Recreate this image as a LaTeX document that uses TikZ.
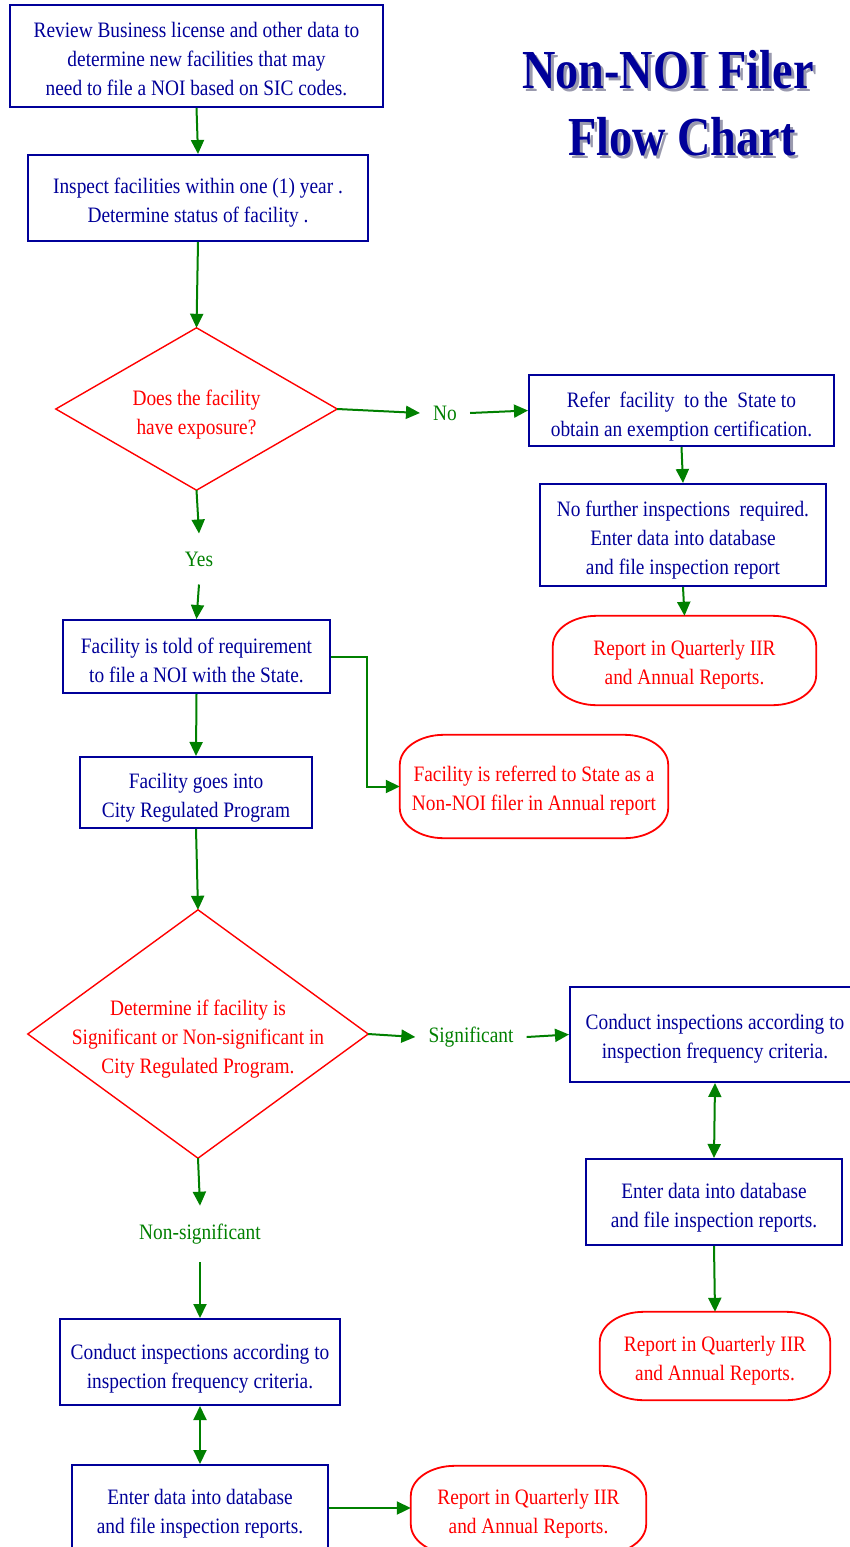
\documentclass[tikz,border=0pt]{standalone}
\usepackage{fontspec}
\setmainfont{Liberation Serif}[FakeStretch=0.88]
\newfontfamily\titlefont{Liberation Serif}[FakeStretch=0.84]
\usetikzlibrary{arrows.meta}

\definecolor{navy}{HTML}{000099}
\definecolor{flowred}{HTML}{FF0000}
\definecolor{flowgreen}{HTML}{008000}
\definecolor{shade}{HTML}{9A9AAE}

% terminal outline with elliptic corners
\newcommand\terminal[1]{%
  \draw[termline] ([xshift=44pt]#1.north west) -- ([xshift=-44pt]#1.north east)
    arc[start angle=90,end angle=0,x radius=44pt,y radius=30pt]
    -- ([yshift=30pt]#1.south east)
    arc[start angle=0,end angle=-90,x radius=44pt,y radius=30pt]
    -- ([xshift=44pt]#1.south west)
    arc[start angle=270,end angle=180,x radius=44pt,y radius=30pt]
    -- ([yshift=-30pt]#1.north west)
    arc[start angle=180,end angle=90,x radius=44pt,y radius=30pt] -- cycle;}
\newcommand\rhombus[1]{%
  \draw[diamline] (#1.north) -- (#1.east) -- (#1.south) -- (#1.west) -- cycle;}

\tikzset{
  x=1pt, y=1pt,
  txt/.style={font=\fontsize{22}{29}\selectfont, align=center, inner sep=0pt},
  procbox/.style={draw=navy, line width=2pt, inner sep=0pt},
  proctext/.style={txt, text=navy},
  termbox/.style={inner sep=0pt},
  termline/.style={draw=flowred, line width=1.8pt},
  redtext/.style={txt, text=flowred},
  diambox/.style={inner sep=0pt},
  diamline/.style={draw=flowred, line width=1.4pt},
  answer/.style={txt, text=flowgreen, inner xsep=13pt, inner ysep=18pt},
  flow/.style={draw=flowgreen, line width=2pt, -{Triangle[length=14pt,width=13pt]}},
  twoway/.style={draw=flowgreen, line width=2pt, {Triangle[length=14pt,width=13pt]}-{Triangle[length=14pt,width=13pt]}},
  headline/.style={font=\titlefont\bfseries\fontsize{55}{63}\selectfont, inner sep=0pt},
}

\begin{document}
\begin{tikzpicture}
\useasboundingbox (0,0) rectangle (850,-1547);
\clip (0,0) rectangle (850,-1547);
\fill[white] (0,0) rectangle (850,-1547);

% heading with drop shadow
\node[headline, text=shade] at (671,-73) {Non-NOI Filer};
\node[headline, text=navy] (title1) at (668,-70) {Non-NOI Filer};
\node[headline, text=shade] at (685,-140) {Flow Chart};
\node[headline, text=navy] (title2) at (682,-137) {Flow Chart};

% left column
\node[procbox, minimum width=373, minimum height=102] (b1) at (196.5,-56) {};
\node[proctext] (b1t) at ([yshift=-3]b1.center)
  {Review Business license and other data to\\determine new facilities that may\\need to file a NOI based on SIC codes.};
\node[procbox, minimum width=340, minimum height=86] (b2) at (198,-198) {};
\node[proctext] (b2t) at ([yshift=-4.5]b2.center)
  {Inspect facilities within one (1) year .\\Determine status of facility .};
\node[diambox, minimum width=281, minimum height=162] (d1) at (196.5,-409) {};
\rhombus{d1}
\node[redtext] (d1t) at ([yshift=-5.5]d1.center) {Does the facility\\have exposure?};
\node[answer] (no) at (445,-413) {No};
\node[answer] (yes) at (199,-559) {Yes};
\node[procbox, minimum width=267, minimum height=73] (b5) at (196.5,-656.5) {};
\node[proctext] (b5t) at ([yshift=-3.5]b5.center)
  {Facility is told of requirement\\to file a NOI with the State.};
\node[procbox, minimum width=232, minimum height=71] (b6) at (196,-792.5) {};
\node[proctext] (b6t) at ([yshift=-5.5]b6.center)
  {Facility goes into\\City Regulated Program};
\node[diambox, minimum width=340, minimum height=248] (d2) at (198,-1034) {};
\rhombus{d2}
\node[redtext] (d2t) at ([yshift=-5]d2.center)
  {Determine if facility is\\Significant or Non-significant in\\City Regulated Program.};
\node[answer] (sig) at (471,-1037) {Significant};
\node[answer] (nsig) at (200,-1234) {Non-significant};
\node[procbox, minimum width=280, minimum height=86] (b9) at (200,-1362) {};
\node[proctext] (b9t) at ([yshift=-6.5]b9.center)
  {Conduct inspections according to\\inspection frequency criteria.};
\node[procbox, minimum width=256, minimum height=86] (b10) at (200,-1508) {};
\node[proctext] (b10t) at ([yshift=-6]b10.center)
  {Enter data into database\\and file inspection reports.};

% right column
\node[procbox, minimum width=305, minimum height=71] (b3) at (681.5,-410.5) {};
\node[proctext] (b3t) at ([yshift=-6]b3.center)
  {Refer~ facility~ to the~ State to\\obtain an exemption certification.};
\node[procbox, minimum width=286, minimum height=102] (b4) at (683,-535) {};
\node[proctext] (b4t) at ([yshift=-5.5]b4.center)
  {No further inspections~ required.\\Enter data into database\\and file inspection report};
\node[termbox, minimum width=263, minimum height=89] (t1) at (684.5,-660.5) {};
\terminal{t1}
\node[redtext] (t1t) at ([yshift=-4.5]t1.center) {Report in Quarterly IIR\\and Annual Reports.};
\node[termbox, minimum width=268, minimum height=103] (t2) at (534,-786.5) {};
\terminal{t2}
\node[redtext] (t2t) at ([yshift=-4]t2.center)
  {Facility is referred to State as a\\Non-NOI filer in Annual report};
\node[procbox, minimum width=290, minimum height=95] (b7) at (715,-1034.5) {};
\node[proctext] (b7t) at ([yshift=-4]b7.center)
  {Conduct inspections according to\\inspection frequency criteria.};
\node[procbox, minimum width=256, minimum height=86] (b8) at (714,-1202) {};
\node[proctext] (b8t) at ([yshift=-5.5]b8.center)
  {Enter data into database\\and file inspection reports.};
\node[termbox, minimum width=230, minimum height=88] (t3) at (715,-1356) {};
\terminal{t3}
\node[redtext] (t3t) at ([yshift=-4.5]t3.center) {Report in Quarterly IIR\\and Annual Reports.};
\node[termbox, minimum width=235, minimum height=88] (t4) at (528.5,-1510) {};
\terminal{t4}
\node[redtext] (t4t) at ([yshift=-4]t4.center) {Report in Quarterly IIR\\and Annual Reports.};

% connectors
\draw[flow] (b1.south) -- (b2.north);
\draw[flow] (b2.south) -- (d1.north);
\draw[flow] (d1.east) -- (no.west);
\draw[flow] (no.east) -- (b3.west);
\draw[flow] (b3.south) -- (b4.north);
\draw[flow] (b4.south) -- (t1.north);
\draw[flow] (d1.south) -- (yes.north);
\draw[flow] (yes.south) -- (b5.north);
\draw[flow] (b5.east) -- ++(36,0) |- (t2.west);
\draw[flow] (b5.south) -- (b6.north);
\draw[flow] (b6.south) -- (d2.north);
\draw[flow] (d2.east) -- (sig.west);
\draw[flow] (sig.east) -- (b7.west);
\draw[twoway] (b7.south) -- (b8.north);
\draw[flow] (b8.south) -- (t3.north);
\draw[flow] (d2.south) -- (nsig.north);
\draw[flow] (nsig.south) -- (b9.north);
\draw[twoway] (b9.south) -- (b10.north);
\draw[flow] (b10.east) -- (b10.east -| t4.west);
\end{tikzpicture}
\end{document}
